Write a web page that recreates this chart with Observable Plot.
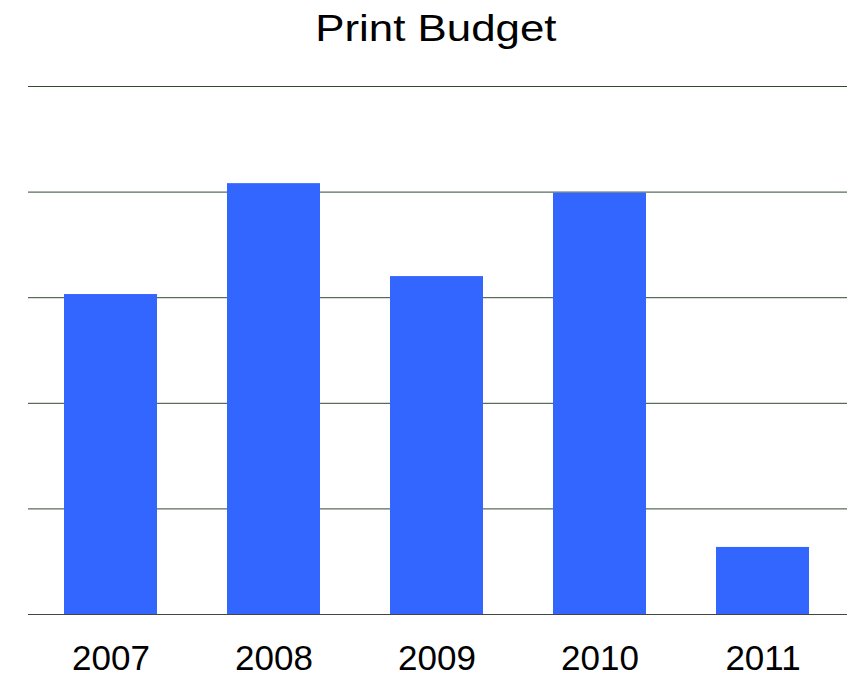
<!DOCTYPE html>
<html>
<head>
<meta charset="utf-8">
<script src="https://cdn.jsdelivr.net/npm/d3@7"></script>
<script src="https://cdn.jsdelivr.net/npm/@observablehq/plot@0.6"></script>
<style>
  html, body { margin: 0; padding: 0; background: #fff; }
  #title { font-family: "Liberation Sans", Arial, sans-serif; font-size: 37px; color: #000;
           height: 60px; line-height: 58px; text-align: center; width: 847px; padding-left: 24px; box-sizing: border-box; }
  #title span { display: inline-block; transform: scaleX(1.185); transform-origin: center; }
  #chart svg { display: block; }
</style>
</head>
<body>
<div id="title"><span>Print Budget</span></div>
<div id="chart"></div>
<script>
const years = ["2007", "2008", "2009", "2010", "2011"];
const budget = [3030, 4080, 3200, 3990, 635];
const gridTicks = [1000, 2000, 3000, 4000, 5000];

const data = years.map((year, i) => ({year, value: budget[i]}));

const chart = Plot.plot({
  width: 847,
  height: 616,
  marginTop: 26,
  marginBottom: 62,
  marginLeft: 28,
  marginRight: 0,
  style: {fontFamily: "'Liberation Sans', Arial, sans-serif", background: "#fff"},
  x: {type: "band", domain: years, range: [63, 809], paddingInner: 0.43, paddingOuter: 0, label: null, axis: null},
  y: {domain: [0, 5000], label: null, axis: null},
  marks: [
    Plot.ruleY(gridTicks, {stroke: "#2f4a2f", strokeWidth: 1, strokeOpacity: 1}),
    Plot.barY(data, {x: "year", y: "value", fill: "#3366ff"}),
    Plot.ruleY([0], {stroke: "#444", strokeWidth: 1.2}),
    Plot.axisX({tickSize: 0, tickPadding: 31, fontSize: 35, fill: "#000", label: null})
  ]
});
document.getElementById("chart").appendChild(chart);
</script>
</body>
</html>
